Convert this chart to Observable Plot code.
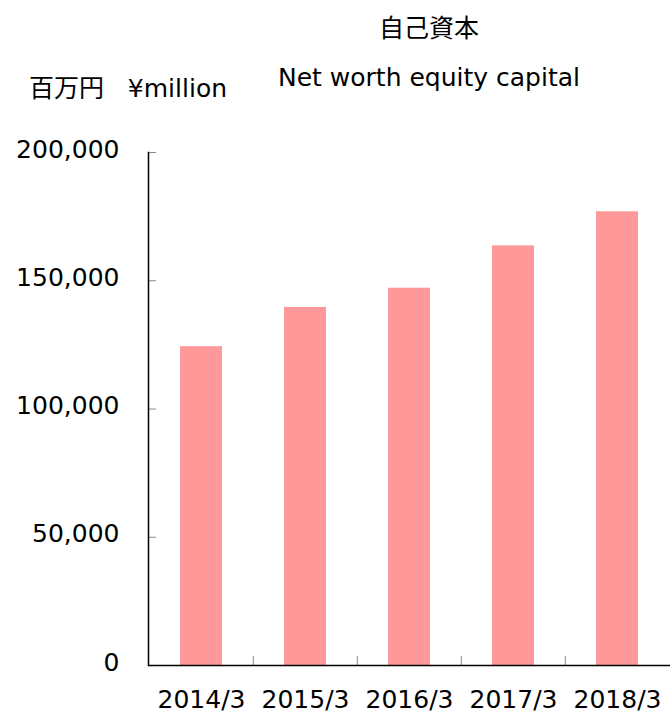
<!DOCTYPE html>
<html>
<head>
<meta charset="utf-8">
<script src="https://cdn.jsdelivr.net/npm/d3@7"></script>
<script src="https://cdn.jsdelivr.net/npm/@observablehq/plot@0.6"></script>
<style>
  html, body { margin: 0; padding: 0; background: #fff; }
  #wrap { position: relative; width: 670px; height: 715px; font-family: "DejaVu Sans", Verdana, sans-serif; }
  .t { position: absolute; font-size: 25px; color: #000; white-space: nowrap; line-height: 1; }
  .jp { font-family: "Noto Sans CJK JP", "DejaVu Sans", sans-serif; }
</style>
</head>
<body>
<div id="wrap">
  <div id="chart"></div>
  <div class="t jp" style="left:0;width:858px;text-align:center;top:14px;">自己資本</div>
  <div class="t" style="left:0;width:858px;text-align:center;top:65px;">Net worth equity capital</div>
  <div class="t" style="left:29px;top:74px;"><span class="jp">百万円</span>&nbsp;&nbsp;&nbsp;¥million</div>
</div>
<script>
const categories = ["2014/3", "2015/3", "2016/3", "2017/3", "2018/3"];
const equity = [124300, 139600, 147100, 163600, 176900];
const yTicks = [0, 50000, 100000, 150000, 200000];

const data = categories.map((c, i) => ({period: c, value: equity[i]}));

const width = 670, height = 715;
const marginLeft = 148, marginRight = 0, marginTop = 152, marginBottom = 50;
const step = (width - marginLeft - marginRight) / categories.length;
const fmt = d3.format(",");

const chart = Plot.plot({
  width, height, marginLeft, marginRight, marginTop, marginBottom,
  style: {fontFamily: "'DejaVu Sans', Verdana, sans-serif", fontSize: "25px", color: "#000", background: "#fff"},
  x: {domain: categories, paddingInner: 0.6, paddingOuter: 0.3, align: 0.5},
  y: {domain: [0, 200000]},
  marks: [
    Plot.barY(data, {x: "period", y: "value", fill: "#ff9999"}),
    Plot.axisY({ticks: yTicks, tickFormat: fmt, tickSize: 0, tickPadding: 29, dy: -3, label: null, fontSize: 25}),
    Plot.axisY({ticks: yTicks, tickSize: -8, text: null, label: null, stroke: "#888"}),
    Plot.axisX({tickSize: 0, tickPadding: 25, label: null, fontSize: 25}),
    Plot.axisX({ticks: categories.slice(1), tickSize: -9, text: null, label: null, dx: -step / 2, stroke: "#888"}),
    Plot.frame({anchor: "left", stroke: "#000", strokeWidth: 1.5}),
    Plot.ruleY([0], {stroke: "#000", strokeWidth: 1.5})
  ]
});
document.getElementById("chart").appendChild(chart);
</script>
</body>
</html>
